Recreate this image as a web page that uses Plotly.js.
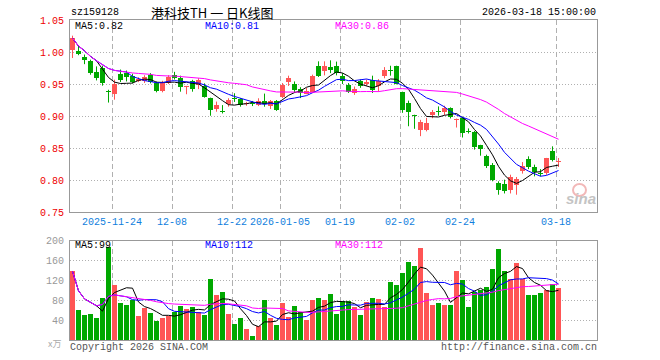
<!DOCTYPE html>
<html><head><meta charset="utf-8">
<script src="https://cdn.plot.ly/plotly-3.0.1.min.js"></script>
<style>html,body{margin:0;padding:0;background:#fff}#chart{width:660px;height:360px}</style>
</head><body><div id="chart"></div>
<script>
const dates = ['2025-11-13','2025-11-14','2025-11-17','2025-11-18','2025-11-19','2025-11-20','2025-11-21','2025-11-24','2025-11-25','2025-11-26',
'2025-11-27','2025-11-28','2025-12-01','2025-12-02','2025-12-03','2025-12-04','2025-12-05','2025-12-08','2025-12-09','2025-12-10',
'2025-12-11','2025-12-12','2025-12-15','2025-12-16','2025-12-17','2025-12-18','2025-12-19','2025-12-22','2025-12-23','2025-12-24',
'2025-12-25','2025-12-26','2025-12-29','2025-12-30','2025-12-31','2026-01-05','2026-01-06','2026-01-07','2026-01-08','2026-01-09',
'2026-01-12','2026-01-13','2026-01-14','2026-01-15','2026-01-16','2026-01-19','2026-01-20','2026-01-21','2026-01-22','2026-01-23',
'2026-01-26','2026-01-27','2026-01-28','2026-01-29','2026-01-30','2026-02-02','2026-02-03','2026-02-04','2026-02-05','2026-02-06',
'2026-02-09','2026-02-10','2026-02-11','2026-02-12','2026-02-13','2026-02-24','2026-02-25','2026-02-26','2026-02-27','2026-03-02',
'2026-03-03','2026-03-04','2026-03-05','2026-03-06','2026-03-09','2026-03-10','2026-03-11','2026-03-12','2026-03-13','2026-03-16',
'2026-03-17','2026-03-18'];
const open = [1.0026,1.001,0.992,0.9864,0.968,0.975,0.9375,0.935,0.966,0.967,
 0.962,0.9553,0.954,0.9647,0.9516,0.9395,0.9516,0.9646,0.960,0.945,
 0.954,0.9487,0.947,0.9277,0.911,0.9078,0.9188,0.9287,0.926,0.918,
 0.9205,0.9165,0.9235,0.9155,0.9235,0.9295,0.953,0.950,0.942,0.935,
 0.937,0.9786,0.971,0.977,0.9786,0.963,0.949,0.936,0.954,0.950,
 0.957,0.947,0.962,0.970,0.9786,0.937,0.921,0.9005,0.878,0.878,
 0.902,0.907,0.907,0.912,0.8936,0.897,0.8753,0.8757,0.854,0.838,
 0.824,0.7953,0.7937,0.785,0.792,0.8135,0.8335,0.8205,0.81,0.811,
 0.8448,0.8286];
const high = [1.0255,1.010,0.996,0.988,0.9775,0.9786,0.941,0.9567,0.9726,0.971,
 0.966,0.9605,0.9637,0.967,0.954,0.955,0.9637,0.969,0.963,0.947,
 0.9565,0.959,0.951,0.9287,0.9225,0.917,0.9277,0.9355,0.928,0.922,
 0.9235,0.9277,0.935,0.925,0.925,0.9515,0.963,0.954,0.945,0.944,
 0.9646,0.9854,0.9854,0.987,0.985,0.967,0.9515,0.946,0.957,0.957,
 0.963,0.9576,0.9764,0.9785,0.9786,0.938,0.924,0.902,0.894,0.897,
 0.9094,0.915,0.916,0.9135,0.896,0.899,0.8806,0.8765,0.855,0.8396,
 0.8265,0.798,0.8005,0.8083,0.8047,0.828,0.837,0.824,0.817,0.8345,
 0.8526,0.8344];
const low = [0.9906,0.995,0.981,0.9645,0.9556,0.9474,0.921,0.9255,0.953,0.954,
 0.951,0.953,0.9516,0.951,0.937,0.937,0.950,0.957,0.938,0.934,
 0.938,0.942,0.9287,0.9004,0.9067,0.904,0.9146,0.922,0.9146,0.916,
 0.9155,0.9155,0.9145,0.911,0.908,0.928,0.947,0.936,0.928,0.934,
 0.936,0.961,0.9635,0.967,0.9635,0.950,0.936,0.933,0.944,0.947,
 0.936,0.938,0.959,0.963,0.9495,0.905,0.884,0.880,0.8685,0.876,
 0.8965,0.9004,0.9015,0.8962,0.882,0.8664,0.8727,0.8475,0.838,0.8187,
 0.798,0.777,0.779,0.779,0.777,0.810,0.817,0.8057,0.8057,0.808,
 0.829,0.8203];
const close = [1.0216,0.997,0.987,0.967,0.959,0.951,0.937,0.9505,0.9563,0.9605,
 0.953,0.958,0.9605,0.953,0.9395,0.9516,0.9605,0.960,0.945,0.947,
 0.942,0.9565,0.930,0.9094,0.9172,0.9068,0.925,0.9266,0.917,0.920,
 0.918,0.9235,0.919,0.9235,0.910,0.949,0.9595,0.941,0.936,0.939,
 0.963,0.963,0.9786,0.9722,0.967,0.955,0.938,0.942,0.947,0.9525,
 0.941,0.954,0.9722,0.9696,0.950,0.910,0.907,0.900,0.891,0.8884,
 0.9067,0.9062,0.913,0.899,0.8946,0.8737,0.8747,0.852,0.849,0.8213,
 0.7995,0.785,0.7833,0.8047,0.801,0.822,0.8205,0.812,0.8095,0.834,
 0.8317,0.8292];
const volume = [138,60,50,52,44,84,187,110,74,70,
 80,48,64,54,38,44,48,56,68,62,
 66,56,50,122,90,96,52,32,44,22,
 8,28,80,44,30,74,46,68,56,40,
 80,84,80,92,52,78,78,66,50,76,
 84,82,66,116,110,134,156,148,184,94,
 70,74,70,70,138,120,66,96,100,106,
 142,182,138,122,154,122,90,90,94,100,
 112,104];
const tickDates = ['2025-11-24','2025-12-08','2025-12-22','2026-01-05','2026-01-19','2026-02-02','2026-02-24','2026-03-18'];
const tickText = ['2025-11-24','12-08','12-22','2026-01-05','01-19','02-02','02-24','03-18'];
const priceTicks = [0.75,0.80,0.85,0.90,0.95,1.00,1.05];
const volTicks = [40,80,120,160,200];
const maPeriods = [5,10,30];
const priceMaLabels = ['MA5:0.82','MA10:0.81','MA30:0.86'];
const volMaLabels = ['MA5:99','MA10:112','MA30:112'];

const RED='#ff5555', GREEN='#00a800';
const maColors=['#000000','#0000ff','#ff00ff'];
const N = close.length;
const idx = close.map((_,i)=>i);
function ma(arr,n){return arr.map((_,i)=>{const s=Math.max(0,i-n+1);let t=0;for(let j=s;j<=i;j++)t+=arr[j];return t/(i-s+1);});}
const up = idx.map(i=>close[i]>=open[i]);
const colors = up.map(u=>u?RED:GREEN);
const bodyBase = idx.map(i=>Math.min(open[i],close[i]));
const bodyH = idx.map(i=>Math.max(Math.abs(close[i]-open[i]),0.0016));

function wicks(flag){const x=[],y=[];idx.forEach(i=>{if(up[i]===flag){x.push(i,i,null);y.push(low[i],high[i],null);}});return {x,y};}
const wu=wicks(true), wd=wicks(false);

const traces=[
 {type:'scatter',mode:'lines',x:wu.x,y:wu.y,line:{color:RED,width:1},xaxis:'x',yaxis:'y',hoverinfo:'skip'},
 {type:'scatter',mode:'lines',x:wd.x,y:wd.y,line:{color:GREEN,width:1},xaxis:'x',yaxis:'y',hoverinfo:'skip'},
 {type:'bar',x:idx,y:bodyH,base:bodyBase,width:5/6,marker:{color:colors,line:{width:0}},xaxis:'x',yaxis:'y'},
 {type:'bar',x:idx,y:volume,width:5/6,marker:{color:colors,line:{width:0}},xaxis:'x2',yaxis:'y2'}
];
maPeriods.forEach((p,j)=>{
 traces.push({type:'scatter',mode:'lines',x:idx,y:ma(close,p),line:{color:maColors[j],width:1},xaxis:'x',yaxis:'y'});
});
maPeriods.forEach((p,j)=>{
 traces.push({type:'scatter',mode:'lines',x:idx,y:ma(volume,p),line:{color:maColors[j],width:1},xaxis:'x2',yaxis:'y2'});
});

const L=70,R=597,T=20,B=340;
const px=x=>(x-L)/(R-L), py=y=>(B-y)/(B-T);
const xr=[-2.5/6,(R-L)/6-2.5/6];
const tv=tickDates.map(d=>dates.indexOf(d)-2.5/6);
const mono='Liberation Mono, DejaVu Sans Mono, monospace';
const gridC='#b0b0b0', lineC='#999999';
const xbase={range:xr,tickvals:tv,ticktext:tickText,showgrid:true,gridcolor:gridC,griddash:'5px,3px',gridwidth:1,
 showline:true,mirror:true,linecolor:lineC,linewidth:1,ticks:'',zeroline:false,fixedrange:true};
function ann(text,x,y,color,xa,extra){return Object.assign({text:text,x:px(x),y:py(y),xref:'paper',yref:'paper',showarrow:false,
 xanchor:xa||'left',yanchor:'middle',font:{family:mono,size:10,color:color||'#000'},borderpad:0},extra||{});}
const annotations=[
 ann('sz159128',70,12,'#000'),
 ann('港科技TH 一 日K线图',150,12,'#000','left',{font:{family:'Noto Sans CJK SC',size:13,color:'#000'}}),
 ann('2026-03-18 15:00:00',597,12,'#000','right'),
 ann(priceMaLabels[0],74,26,maColors[0]),
 ann(priceMaLabels[1],204,26,maColors[1]),
 ann(priceMaLabels[2],334,26,maColors[2]),
 ann(volMaLabels[0],74,245,maColors[0]),
 ann(volMaLabels[1],204,245,maColors[1]),
 ann(volMaLabels[2],334,245,maColors[2]),
 ann('Copyright 2026 SINA.COM',69,347,'#555'),
 ann('http://finance.sina.com.cn',598,347,'#555','right'),
 ann('x万',47,343,'#aaa','left',{font:{family:'Noto Sans CJK SC',size:9,color:'#aaa'}}),
 ann('<b><i>sina</i></b>',597,198,'#c0c0c0','right',{font:{family:'Liberation Sans, Arial',size:15,color:'#c4c4c4'}})
];
const shapes=[
 {type:'circle',xref:'paper',yref:'paper',x0:px(573),x1:px(586),y0:py(196),y1:py(184),line:{color:'#f2b8b8',width:2},fillcolor:'rgba(0,0,0,0)'}
];
const layout={width:660,height:360,margin:{l:L,r:660-R,t:T,b:360-B,pad:0},paper_bgcolor:'#fff',plot_bgcolor:'#fff',
 showlegend:false,barmode:'overlay',bargap:0,
 xaxis:Object.assign({},xbase,{anchor:'y',tickfont:{family:mono,size:10,color:'#1080dd'},showticklabels:true}),
 xaxis2:Object.assign({},xbase,{anchor:'y2',matches:'x',showticklabels:false}),
 yaxis:{domain:[(B-212)/(B-T),1],range:[0.75,1.05],tickvals:priceTicks,ticktext:priceTicks.map(v=>v.toFixed(2)),
  tickfont:{family:mono,size:10,color:'#ee0000'},showgrid:true,gridcolor:gridC,griddash:'1px,2px',showline:true,mirror:true,
  linecolor:lineC,linewidth:1,ticks:'',zeroline:false,fixedrange:true,ticklabelstandoff:3},
 yaxis2:{domain:[0,(B-240.5)/(B-T)],range:[0,200],tickvals:volTicks,ticktext:volTicks.map(String),
  tickfont:{family:mono,size:10,color:'#999'},showgrid:true,gridcolor:gridC,griddash:'1px,2px',showline:true,mirror:true,
  linecolor:lineC,linewidth:1,ticks:'',zeroline:false,fixedrange:true,ticklabelstandoff:3},
 annotations:annotations,shapes:shapes
};
Plotly.newPlot('chart',traces,layout,{staticPlot:true,displayModeBar:false});
</script></body></html>
